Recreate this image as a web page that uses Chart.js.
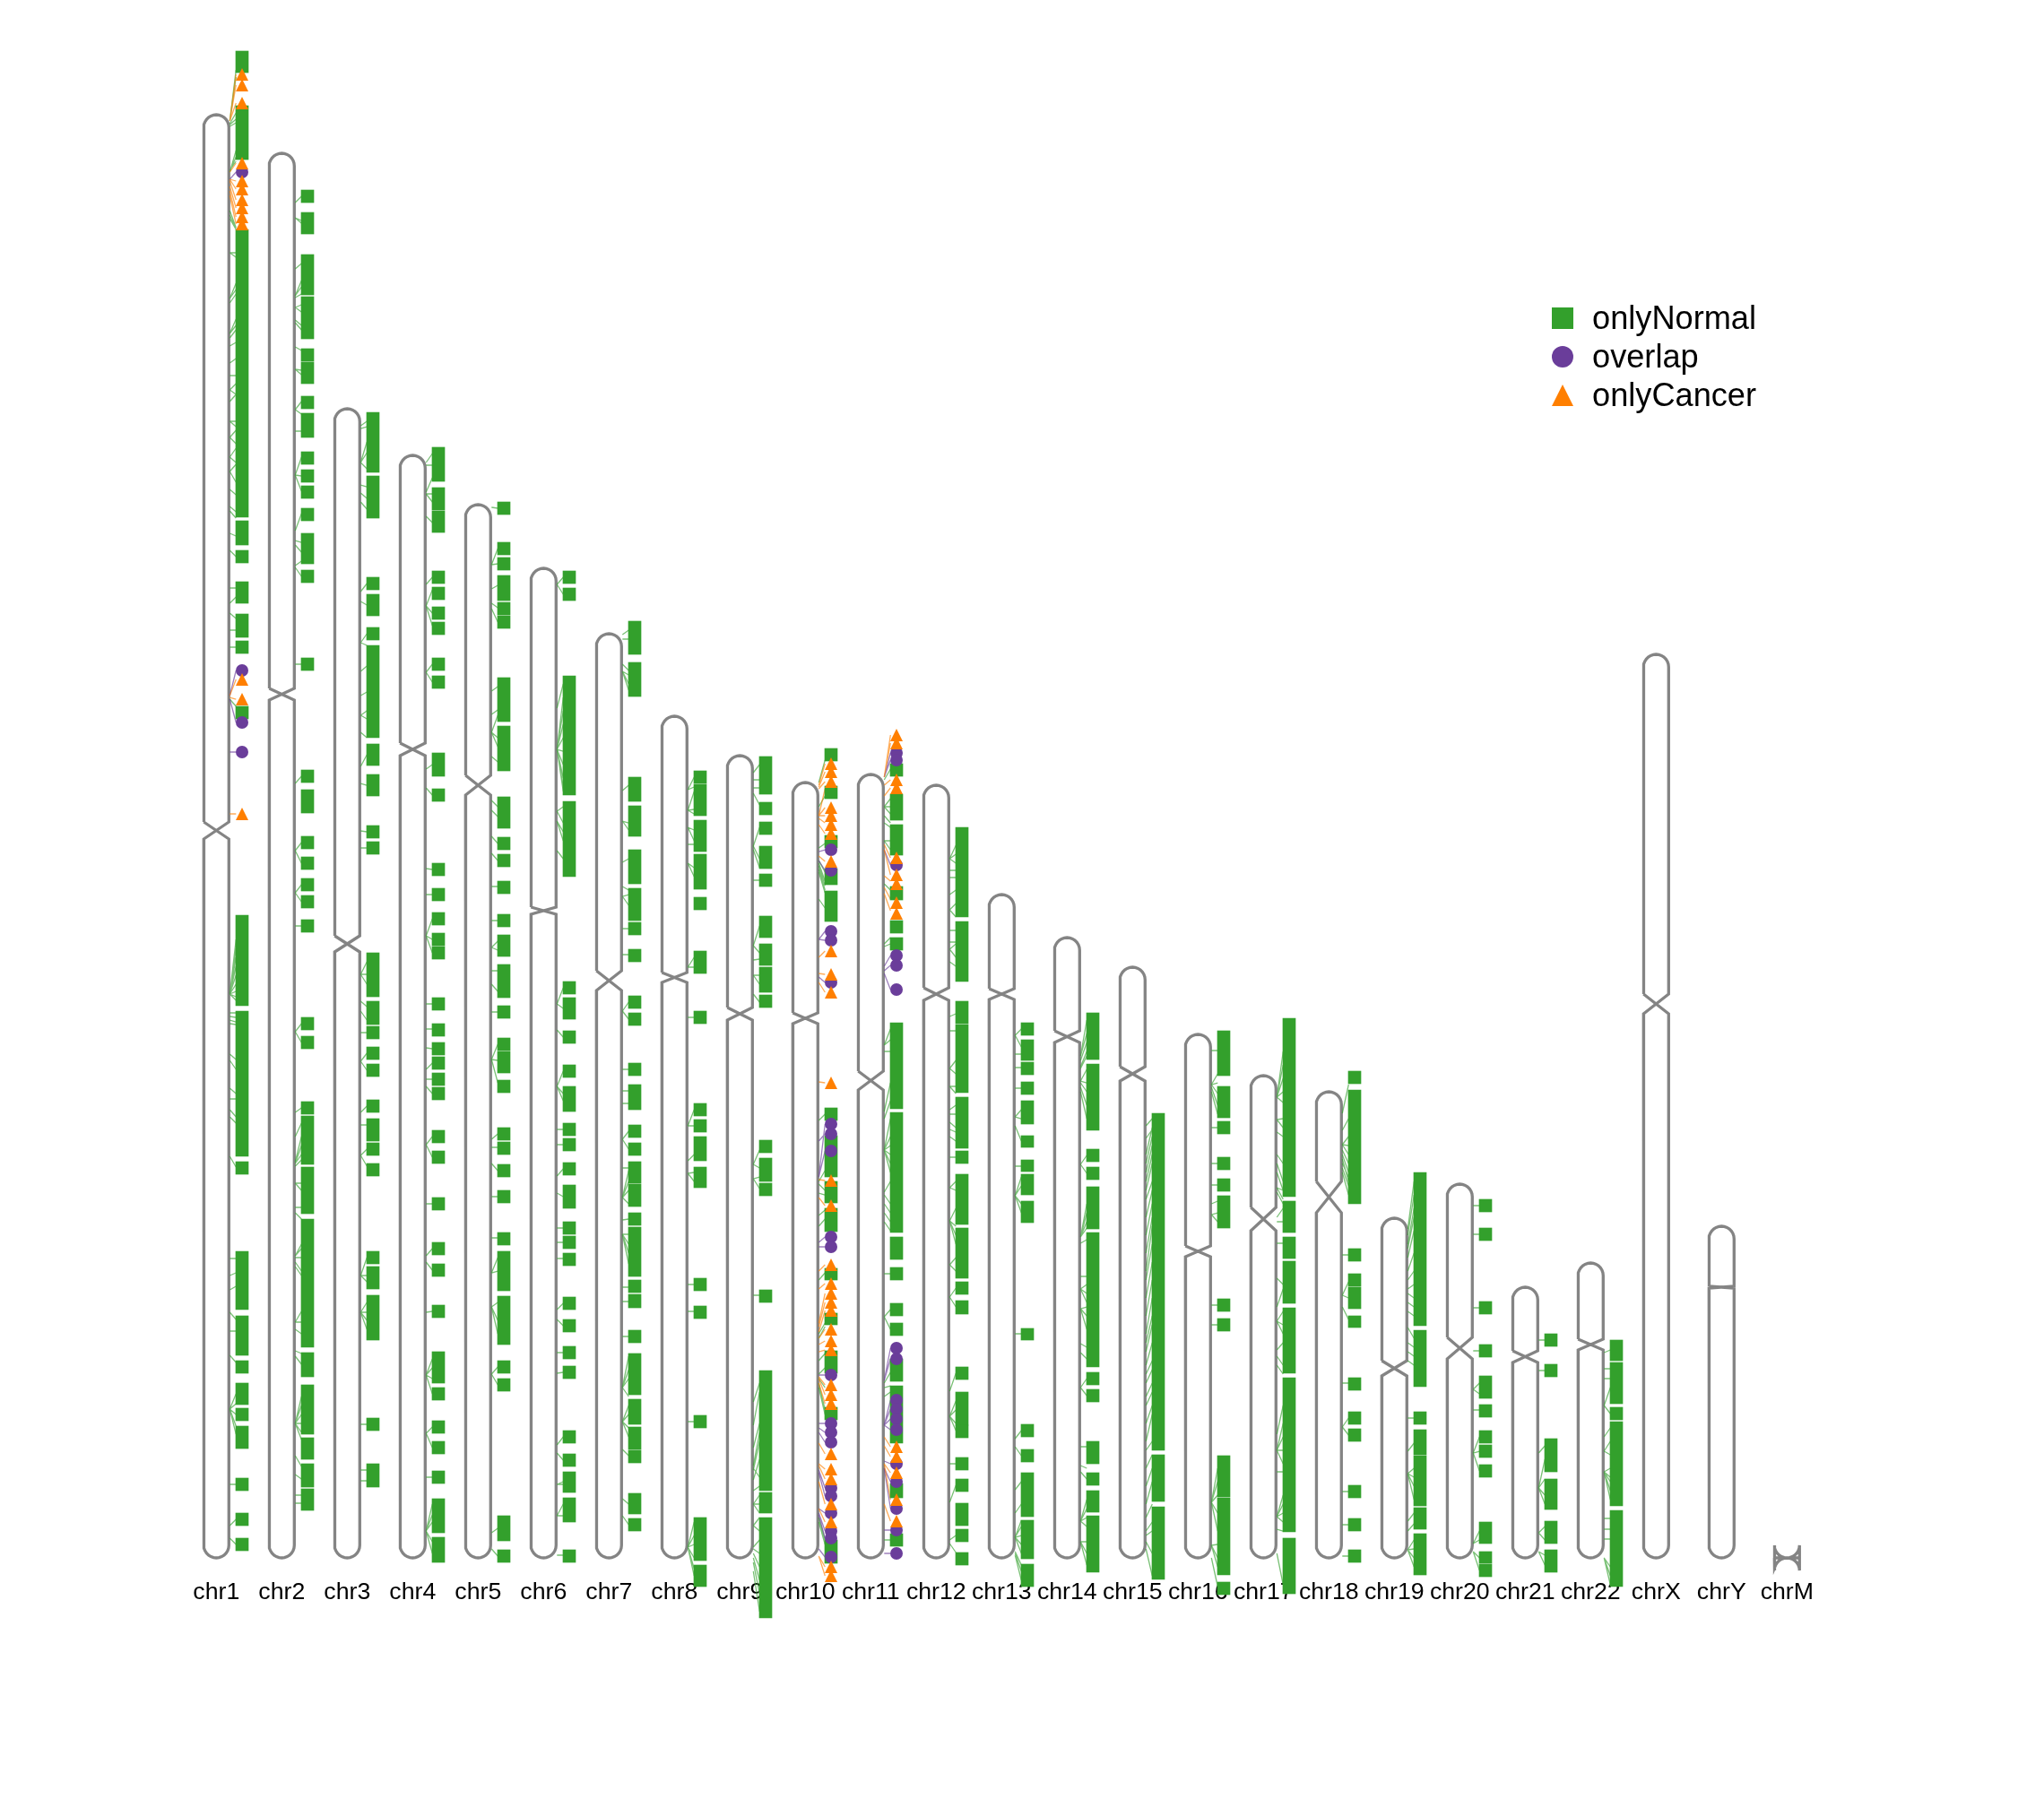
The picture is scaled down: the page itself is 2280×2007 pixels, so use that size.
<!DOCTYPE html>
<html>
<head>
<meta charset="utf-8">
<title>chromosome ideogram</title>
<script src="https://cdn.jsdelivr.net/npm/chart.js@4"></script>
<style>
  html, body { margin: 0; padding: 0; background: #fff; }
  canvas { display: block; }
</style>
</head>
<body>
<canvas id="myChart" width="2280" height="2007"></canvas>
<script>
const chrNames = ['chr1','chr2','chr3','chr4','chr5','chr6','chr7','chr8','chr9','chr10','chr11','chr12','chr13','chr14','chr15','chr16','chr17','chr18','chr19','chr20','chr21','chr22','chrX','chrY','chrM'];
const chrTop   = [1610,1567,1282,1230,1175,1104,1031,939,895,865,874,862,740,692,659,584,538,520,379,417,302,329,1008,370,0];
const cenUpper = [821,970,694,909,873,726,655,653,614,608,543,636,635,588,548,348,391,420,220,246,231,244,629,303,0];
const cenLower = [802,957,676,895,851,718,633,642,600,596,522,622,623,575,532,336,365,385,203,222,218,232,607,301,0];

// onlyNormal runs [upper, lower]
const normal1 = [[1681,1657],[1620,1560],[1482,1161],[1157,1130],[1124,1110],[1089,1065],[1053,1027],[1023,1009],[950,936],[717,616],[610,448],[442,428],[342,277],[270,226],[220,206],[195,171],[167,153],[147,122],[89,75],[50,36],[22,8]];
const normal2 = [[1526,1512],[1501,1477],[1454,1409],[1407,1360],[1349,1335],[1334,1310],[1296,1282],[1277,1250],[1234,1220],[1214,1200],[1196,1182],[1171,1157],[1143,1109],[1102,1088],[1004,990],[879,865],[857,831],[805,791],[782,768],[758,744],[739,725],[712,698],[603,589],[582,568],[509,495],[493,439],[436,384],[378,235],[229,202],[193,138],[134,110],[105,79],[77,53]];
const normal3 = [[1278,1211],[1207,1160],[1094,1080],[1075,1051],[1038,1024],[1018,915],[908,884],[874,850],[817,803],[799,785],[675,626],[621,595],[593,579],[570,556],[551,537],[511,497],[490,465],[463,449],[440,426],[342,328],[325,300],[293,243],[156,142],[105,79]];
const normal4 = [[1239,1201],[1194,1169],[1168,1144],[1101,1087],[1083,1069],[1061,1047],[1044,1030],[1004,990],[984,970],[898,872],[858,844],[775,761],[747,733],[720,706],[697,683],[682,668],[625,611],[596,582],[575,561],[559,545],[541,527],[525,511],[477,463],[454,440],[402,388],[352,338],[328,314],[282,268],[230,195],[190,176],[153,139],[130,116],[97,83],[66,28],[23,-5]];
const normal5 = [[1178,1164],[1133,1119],[1116,1102],[1096,1068],[1066,1052],[1051,1037],[982,933],[928,878],[849,814],[804,790],[785,771],[755,741],[718,704],[695,671],[662,625],[616,602],[580,566],[565,541],[533,519],[480,466],[464,450],[439,425],[410,396],[363,349],[342,298],[292,238],[220,206],[200,186],[47,19],[9,-5]];
const normal6 = [[1101,1087],[1082,1068],[984,851],[844,760],[643,629],[625,601],[588,574],[550,536],[526,498],[485,471],[468,454],[441,427],[416,390],[375,361],[359,345],[340,326],[291,277],[266,252],[236,222],[214,200],[142,128],[116,102],[96,73],[67,40],[9,-5]];
const normal7 = [[1045,1008],[999,961],[871,844],[839,805],[790,752],[747,711],[709,695],[679,665],[627,613],[608,594],[552,538],[528,500],[483,469],[463,449],[442,418],[417,392],[385,371],[369,314],[310,296],[294,279],[254,240],[228,182],[177,149],[146,121],[120,106],[72,49],[44,30]];
const normal8 = [[878,864],[863,828],[823,788],[785,746],[737,723],[677,652],[610,596],[507,493],[489,475],[470,443],[436,413],[312,298],[281,267],[159,145],[45,-3],[-8,-32]];
const normal9 = [[894,852],[843,829],[821,807],[794,769],[763,749],[716,692],[685,661],[659,631],[628,614],[466,452],[446,420],[418,404],[299,285],[209,75],[73,50],[45,-67]];
const normal10 = [[903,889],[861,847],[806,792],[769,751],[744,710],[502,488],[471,425],[420,396],[390,364],[323,310],[273,260],[231,206],[168,154],[20,-6]];
const normal11 = [[886,872],[852,823],[818,784],[749,734],[711,697],[692,678],[597,501],[497,363],[358,333],[324,310],[284,270],[262,248],[222,197],[192,128],[83,67],[27,13]];
const normal12 = [[815,715],[710,643],[621,596],[595,519],[514,457],[454,440],[428,372],[368,312],[308,294],[287,272],[213,199],[185,148],[148,134],[112,98],[88,74],[61,36],[32,18],[6,-8]];
const normal13 = [[597,583],[578,555],[553,539],[531,517],[510,484],[471,458],[444,431],[428,405],[398,374],[256,243],[149,135],[121,107],[95,46],[42,-1],[-7,-32]];
const normal14 = [[608,556],[551,477],[456,442],[436,422],[414,367],[363,213],[207,193],[188,174],[130,105],[95,81],[75,51],[47,-16]];
const normal15 = [[496,120],[115,63],[57,-24]];
const normal16 = [[588,538],[526,491],[487,473],[447,433],[423,409],[404,368],[289,275],[267,253],[114,68],[67,-19],[-27,-41]];
const normal17 = [[602,403],[398,363],[358,334],[331,284],[279,206],[201,29],[22,-40]];
const normal18 = [[543,529],[522,395],[345,331],[317,303],[302,278],[270,257],[201,187],[163,149],[144,130],[81,67],[44,30],[9,-5]];
const normal19 = [[430,259],[254,191],[163,149],[143,115],[114,58],[56,32],[27,-19]];
const normal20 = [[400,386],[368,354],[286,272],[238,224],[203,178],[171,157],[142,128],[126,112],[104,90],[40,16],[7,-6],[-7,-21]];
const normal21 = [[250,236],[216,202],[133,96],[88,54],[41,16],[9,-16]];
const normal22 = [[243,220],[218,172],[168,154],[152,58],[53,-32]];
const normalRuns = [normal1,normal2,normal3,normal4,normal5,normal6,normal7,normal8,normal9,normal10,normal11,normal12,normal13,normal14,normal15,normal16,normal17,normal18,normal19,normal20,normal21,normal22];

// overlap and onlyCancer only show up on three chromosomes
const overlap1 = [1546,990,932,899];
const overlap10 = [790,767,699,689,642,484,473,454,358,347,204,150,140,129,78,69,50,30,22,1];
const overlap11 = [898,890,773,672,661,634,234,222,176,166,155,143,105,85,55,31,5];
const cancer1 = [1655,1643,1623,1556,1536,1527,1515,1506,1496,1488,980,958,830];
const cancer10 = [886,877,866,837,828,818,808,777,677,651,631,530,421,393,327,306,295,285,276,255,242,232,193,182,172,116,99,88,60,40,-10,-20];
const cancer11 = [918,909,868,859,781,762,752,731,719,124,113,95,65,41];

// links [wall, marker]
const linkNormal1 = [[1603,1660],[1603,1652],[1600,1612],[1599,1605],[1597,1601],[1546,1570],[1546,1563],[1548,1558],[1503,1484],[1498,1482],[1494,1482],[1456,1456],[1456,1451],[1405,1422],[1405,1415],[1400,1410],[1366,1382],[1366,1375],[1361,1370],[1352,1356],[1333,1338],[1319,1319],[1303,1310],[1303,1298],[1290,1298],[1268,1268],[1268,1262],[1250,1258],[1250,1243],[1228,1238],[1228,1222],[1212,1220],[1212,1200],[1192,1186],[1173,1167],[1168,1160],[1143,1140],[1124,1117],[1082,1082],[1065,1072],[1054,1048],[1035,1035],[1016,1016],[958,950],[629,690],[629,680],[629,670],[629,660],[629,650],[629,640],[629,632],[629,626],[629,622],[608,608],[604,603],[600,598],[596,595],[562,556],[555,545],[524,518],[512,512],[500,492],[492,485],[448,436],[334,334],[315,318],[299,303],[274,266],[253,253],[226,218],[166,183],[166,172],[166,160],[166,147],[166,138],[82,82],[36,43],[22,15]];
const linkNormal2 = [[1512,1519],[1495,1492],[1495,1489],[1438,1444],[1408,1425],[1408,1418],[1406,1410],[1395,1398],[1395,1390],[1381,1375],[1378,1370],[1351,1347],[1326,1325],[1326,1320],[1281,1290],[1281,1276],[1257,1257],[1208,1228],[1208,1207],[1208,1190],[1146,1165],[1135,1133],[1130,1122],[1107,1112],[1105,1095],[997,997],[864,872],[789,798],[789,775],[742,751],[742,732],[705,705],[587,596],[587,575],[497,502],[470,485],[442,470],[440,460],[440,450],[437,444],[418,418],[418,410],[391,391],[385,378],[337,350],[337,345],[335,335],[330,320],[325,315],[263,275],[263,263],[255,250],[231,228],[225,216],[150,180],[150,170],[150,160],[150,150],[150,140],[150,132],[114,102],[93,88],[70,70],[61,61]];
const linkNormal3 = [[1263,1268],[1260,1262],[1222,1245],[1222,1233],[1222,1215],[1197,1195],[1188,1182],[1178,1170],[1078,1087],[1067,1063],[1021,1031],[1021,1018],[989,995],[962,966],[940,945],[940,936],[921,915],[883,896],[864,862],[811,810],[792,792],[651,665],[651,651],[651,640],[621,615],[610,600],[586,586],[554,563],[554,544],[497,504],[483,483],[449,456],[449,437],[315,335],[315,315],[315,308],[274,285],[274,274],[274,265],[274,255],[149,149],[98,98],[86,86]];
const linkNormal4 = [[1222,1232],[1219,1219],[1189,1205],[1187,1187],[1187,1178],[1162,1155],[1086,1094],[1062,1080],[1062,1054],[1062,1040],[988,997],[988,977],[880,885],[859,851],[769,768],[740,740],[694,713],[694,690],[694,675],[618,618],[590,590],[569,568],[545,552],[534,534],[526,518],[461,470],[461,447],[395,395],[337,345],[330,321],[274,275],[204,222],[204,212],[204,200],[204,183],[139,146],[139,123],[90,90],[30,60],[30,48],[30,40],[30,18],[30,5]];
const linkNormal5 = [[1172,1171],[1108,1126],[1108,1109],[1081,1085],[1065,1060],[1059,1044],[967,972],[941,946],[921,940],[921,915],[921,905],[894,888],[845,838],[834,827],[805,797],[786,778],[749,749],[711,711],[681,688],[681,678],[655,655],[640,632],[609,609],[556,573],[556,555],[556,530],[467,473],[458,458],[440,432],[403,403],[357,357],[318,335],[318,320],[280,285],[280,265],[280,250],[205,213],[205,193],[28,33],[10,2]];
const linkNormal6 = [[1086,1094],[1086,1075],[948,975],[902,960],[902,945],[902,930],[902,915],[902,900],[902,885],[902,870],[902,860],[902,855],[833,838],[833,820],[822,810],[822,800],[789,780],[618,636],[618,613],[589,581],[526,543],[526,518],[526,510],[478,478],[461,461],[426,434],[407,403],[368,368],[352,352],[334,334],[277,284],[266,259],[229,229],[206,207],[126,135],[117,109],[82,85],[82,82],[47,60],[47,47],[3,3]];
const linkNormal7 = [[1030,1035],[1025,1025],[997,990],[989,985],[989,975],[989,968],[856,862],[822,820],[822,812],[776,780],[749,745],[738,740],[738,728],[702,702],[673,673],[610,620],[610,601],[545,545],[521,521],[507,507],[467,476],[467,456],[435,435],[402,432],[402,420],[402,410],[402,395],[377,378],[361,361],[361,350],[361,340],[361,328],[302,302],[286,286],[247,247],[190,225],[190,210],[190,200],[190,180],[152,170],[152,160],[152,145],[152,135],[121,114],[66,60],[47,37]];
const linkNormal8 = [[857,871],[857,860],[834,855],[834,835],[834,830],[815,812],[815,800],[796,796],[775,770],[775,760],[659,670],[659,659],[603,603],[482,500],[482,482],[443,450],[429,430],[429,420],[305,305],[275,275],[152,152],[12,40],[12,25],[12,15],[12,0],[12,-12],[12,-20]];
const linkNormal9 = [[876,885],[868,868],[859,859],[853,840],[794,815],[794,780],[790,770],[756,756],[683,705],[683,675],[667,668],[650,650],[650,640],[629,620],[439,455],[439,435],[423,425],[423,412],[293,293],[174,195],[148,185],[123,150],[103,140],[98,130],[87,110],[100,90],[75,80],[60,70],[60,60],[60,50],[36,45],[36,30],[12,20],[10,5],[5,-10],[0,-25],[-5,-40],[-15,-60]];
const linkNormal10 = [[865,890],[838,850],[792,797],[778,765],[775,755],[772,750],[768,745],[765,742],[735,725],[488,495],[420,432],[417,410],[407,405],[382,388],[370,378],[310,318],[250,262],[245,258],[220,228],[205,212],[200,190],[195,165],[190,160],[40,15],[45,20]];
const linkNormal11 = [[868,880],[838,847],[838,838],[838,830],[828,820],[820,815],[800,800],[800,790],[752,745],[685,692],[682,685],[572,590],[572,578],[565,565],[498,530],[490,510],[455,490],[455,470],[455,460],[455,450],[455,440],[455,430],[408,420],[405,395],[395,385],[385,375],[375,365],[317,317],[269,277],[269,255],[195,207],[190,192],[180,185],[20,20]];
const linkNormal12 = [[780,795],[780,785],[780,775],[767,767],[759,759],[740,745],[723,730],[723,715],[700,700],[687,687],[679,685],[679,670],[665,660],[604,607],[588,588],[546,555],[546,540],[526,526],[526,518],[500,505],[495,495],[486,480],[478,475],[470,465],[447,447],[413,420],[413,410],[376,390],[376,370],[376,360],[376,350],[327,335],[327,320],[291,301],[291,280],[186,206],[158,175],[158,165],[158,150],[158,142],[105,105],[62,81],[20,25],[16,6]];
const linkNormal13 = [[583,590],[583,570],[562,562],[547,547],[524,524],[492,500],[492,490],[482,465],[437,437],[404,425],[404,415],[404,395],[404,385],[250,250],[133,142],[124,114],[76,85],[50,60],[23,42],[23,35],[23,25],[23,15],[23,5],[7,-8],[5,-15],[3,-25]];
const linkNormal14 = [[560,600],[560,585],[555,575],[548,565],[546,560],[532,545],[532,530],[530,520],[525,505],[520,490],[439,449],[439,429],[358,395],[358,385],[358,375],[358,368],[351,355],[314,314],[300,305],[300,295],[300,285],[278,280],[278,270],[278,255],[239,235],[229,222],[190,200],[190,181],[124,124],[103,100],[96,88],[41,65],[41,55],[41,45],[41,35],[18,18],[18,5],[18,-8]];
const linkNormal15 = [[482,490],[468,478],[450,480],[440,470],[430,460],[420,450],[410,440],[400,420],[380,410],[360,395],[340,380],[320,370],[310,350],[290,330],[270,310],[250,290],[240,270],[230,260],[215,240],[205,220],[195,210],[180,195],[170,185],[150,170],[130,160],[120,130],[100,115],[80,100],[60,85],[45,60],[30,40],[25,30],[18,5],[10,-20]];
const linkNormal16 = [[566,566],[528,540],[528,530],[528,518],[525,505],[520,495],[480,480],[440,440],[416,416],[395,398],[383,385],[383,375],[282,282],[260,260],[62,100],[62,85],[62,70],[62,50],[62,30],[14,15],[14,0],[14,-10],[0,-32]];
const linkNormal17 = [[514,565],[514,550],[514,535],[514,520],[514,508],[489,490],[489,480],[475,470],[450,440],[440,420],[430,410],[413,410],[413,400],[408,395],[380,390],[375,375],[351,351],[312,305],[280,300],[264,275],[264,260],[264,250],[232,240],[225,215],[215,205],[138,170],[120,150],[120,135],[120,120],[120,105],[96,96],[46,70],[46,60],[46,50],[46,40],[32,30],[5,-30]];
const linkNormal18 = [[496,528],[477,490],[461,470],[461,460],[461,450],[455,440],[450,430],[445,420],[440,425],[435,415],[430,405],[338,338],[293,308],[293,290],[280,266],[195,195],[146,156],[146,137],[74,74],[37,37],[2,2]];
const linkNormal19 = [[367,420],[360,405],[350,390],[345,380],[335,365],[320,340],[310,320],[300,305],[295,290],[285,280],[275,270],[257,245],[240,235],[230,225],[220,215],[156,156],[119,128],[94,100],[94,90],[94,80],[94,65],[41,50],[30,38],[9,20],[9,10],[9,0],[9,-10]];
const linkNormal20 = [[393,393],[361,361],[279,279],[231,231],[188,195],[188,183],[165,165],[117,135],[117,119],[117,97],[16,30],[16,20],[7,0],[7,-14]];
const linkNormal21 = [[243,243],[209,209],[117,125],[78,110],[78,88],[78,70],[78,60],[28,35],[28,20],[7,3],[7,-8]];
const linkNormal22 = [[229,232],[211,211],[200,200],[170,190],[170,161],[135,145],[119,130],[119,115],[96,100],[96,90],[96,85],[96,75],[96,65],[44,44],[32,32],[21,21],[0,-10],[0,-20],[0,-30]];
const linkNormal = [linkNormal1,linkNormal2,linkNormal3,linkNormal4,linkNormal5,linkNormal6,linkNormal7,linkNormal8,linkNormal9,linkNormal10,linkNormal11,linkNormal12,linkNormal13,linkNormal14,linkNormal15,linkNormal16,linkNormal17,linkNormal18,linkNormal19,linkNormal20,linkNormal21,linkNormal22];

const linkOverlap1 = [[1538,1546],[962,990],[958,932],[899,899]];
const linkOverlap10 = [[788,790],[778,767],[690,699],[690,689],[648,642],[465,473],[425,484],[425,454],[352,358],[347,347],[204,204],[150,150],[145,140],[140,129],[98,78],[95,69],[55,50],[50,30],[48,22],[10,1]];
const linkOverlap11 = [[871,898],[871,890],[790,773],[660,672],[655,661],[652,634],[198,234],[198,222],[148,176],[148,166],[148,155],[148,143],[108,105],[100,85],[100,55],[31,31],[5,5]];
const linkCancer1 = [[1603,1655],[1603,1643],[1603,1623],[1546,1556],[1538,1536],[1538,1527],[1536,1515],[1530,1506],[1525,1496],[1520,1488],[962,980],[960,958],[830,830]];
const linkCancer10 = [[862,886],[860,877],[858,866],[828,858],[828,837],[828,828],[825,820],[818,808],[783,777],[670,677],[652,651],[642,631],[531,530],[422,421],[402,393],[320,327],[300,306],[262,295],[258,285],[252,276],[245,255],[238,242],[230,232],[202,193],[200,182],[195,172],[128,116],[105,99],[103,88],[85,60],[55,40],[2,-10],[2,-20]];
const linkCancer11 = [[871,918],[871,909],[862,868],[850,859],[796,781],[790,762],[761,755],[748,735],[741,722],[135,124],[125,113],[105,95],[105,65],[60,41]];

const legendNames = ['onlyNormal', 'overlap', 'onlyCancer'];

const green = '#33A02C';
const purple = '#6A3D9A';
const orange = '#FF7F00';
const wallGrey = '#848484';

const pxPerChr = 73;
const firstChrPx = 241.3;
const toChrUnits = px => px / pxPerChr;
const halfWidth = toChrUnits(14);
const capRadius = 14;
const wallX = toChrUnits(15);
const markerX = toChrUnits(28.7);
const linkEndX = toChrUnits(22);

// same walk for every chromosome, chrM comes out as the pinched shape because its length is 0
function outline(i) {
  const pts = [];
  const top = chrTop[i], up = cenUpper[i], low = cenLower[i];
  const steps = 14;
  // left wall up from the centromere, over the cap, down the right wall
  pts.push({ x: i - halfWidth, y: up });
  for (let s = 0; s <= steps; s++) {
    const a = Math.PI - Math.PI * s / steps;
    pts.push({ x: i + halfWidth * Math.cos(a), y: top - capRadius + capRadius * Math.sin(a) });
  }
  pts.push({ x: i + halfWidth, y: up });
  pts.push({ x: i - halfWidth, y: low });
  for (let s = 0; s <= steps; s++) {
    const a = Math.PI + Math.PI * s / steps;
    pts.push({ x: i + halfWidth * Math.cos(a), y: capRadius + capRadius * Math.sin(a) });
  }
  pts.push({ x: i + halfWidth, y: low });
  pts.push({ x: i - halfWidth, y: up });
  return pts;
}

function markerPoints(list, i) {
  return list.map(v => ({ x: i + markerX, y: v }));
}

function linkPoints(list, i) {
  const pts = [];
  list.forEach(l => {
    pts.push({ x: i + wallX, y: l[0] });
    pts.push({ x: i + linkEndX, y: l[1] });
    pts.push({ x: NaN, y: NaN });
  });
  return pts;
}

function triangle(size) {
  const c = document.createElement('canvas');
  c.width = size;
  c.height = size;
  const g = c.getContext('2d');
  g.fillStyle = orange;
  g.beginPath();
  g.moveTo(size / 2, 0);
  g.lineTo(size, size);
  g.lineTo(0, size);
  g.closePath();
  g.fill();
  return c;
}

const normalData = [];
normalRuns.forEach((runs, i) => {
  runs.forEach(r => normalData.push({ x: i + markerX, y: r }));
});

const overlapData = markerPoints(overlap1, 0).concat(markerPoints(overlap10, 9), markerPoints(overlap11, 10));
const cancerData = markerPoints(cancer1, 0).concat(markerPoints(cancer10, 9), markerPoints(cancer11, 10));

function linkSet(data, color, order) {
  return { type: 'line', data: data, borderColor: color, borderWidth: 1.3, pointRadius: 0, spanGaps: false, clip: false, order: order };
}

let normalLinks = [];
linkNormal.forEach((l, i) => { normalLinks = normalLinks.concat(linkPoints(l, i)); });
const overlapLinks = linkPoints(linkOverlap1, 0).concat(linkPoints(linkOverlap10, 9), linkPoints(linkOverlap11, 10));
const cancerLinks = linkPoints(linkCancer1, 0).concat(linkPoints(linkCancer10, 9), linkPoints(linkCancer11, 10));

const datasets = [
  { type: 'scatter', label: 'onlyCancer', data: cancerData, pointStyle: triangle(14), pointRadius: 7, backgroundColor: orange, borderWidth: 0, clip: false, order: 1 },
  { type: 'scatter', label: 'overlap', data: overlapData, pointStyle: 'circle', pointRadius: 7, backgroundColor: purple, borderWidth: 0, clip: false, order: 2 },
  { type: 'bar', label: 'onlyNormal', data: normalData, backgroundColor: green, barThickness: 14, borderWidth: 0, clip: false, order: 3 },
  linkSet(cancerLinks, 'rgba(255,127,0,0.65)', 4),
  linkSet(overlapLinks, 'rgba(106,61,154,0.65)', 5),
  linkSet(normalLinks, 'rgba(51,160,44,0.65)', 6)
];

chrNames.forEach((name, i) => {
  datasets.push({ type: 'line', label: name, data: outline(i), borderColor: wallGrey, borderWidth: 3.3, pointRadius: 0, tension: 0, clip: false, order: 7 });
});

// key sits over the empty part of the plot, the built in legend cannot be placed there
const keyPlugin = {
  id: 'keyPlugin',
  afterDatasetsDraw(chart) {
    const ctx = chart.ctx;
    const rows = [355, 398, 441];
    const cx = 1743, half = 12;
    ctx.save();
    ctx.fillStyle = green;
    ctx.fillRect(cx - half, rows[0] - half, half * 2, half * 2);
    ctx.fillStyle = purple;
    ctx.beginPath();
    ctx.arc(cx, rows[1], half, 0, Math.PI * 2);
    ctx.fill();
    ctx.drawImage(triangle(24), cx - half, rows[2] - half);
    ctx.fillStyle = '#000';
    ctx.font = '36.2px "Liberation Sans"';
    ctx.textBaseline = 'alphabetic';
    legendNames.forEach((n, i) => ctx.fillText(n, 1776, rows[i] + 12));
    ctx.restore();
  }
};

const ctx = document.getElementById('myChart').getContext('2d');
const chart = new Chart(ctx, {
  type: 'bar',
  data: { datasets: datasets },
  plugins: [keyPlugin],
  options: {
    responsive: false,
    animation: false,
    layout: { padding: 0, autoPadding: false },
    plugins: { legend: { display: false }, tooltip: { enabled: false } },
    scales: {
      x: {
        type: 'linear',
        offset: false,
        min: -firstChrPx / pxPerChr,
        max: (2280 - firstChrPx) / pxPerChr,
        border: { display: false },
        grid: { display: false, drawTicks: false },
        afterBuildTicks(scale) { scale.ticks = chrNames.map((n, i) => ({ value: i })); },
        afterFit(scale) { scale.height = 252; },
        ticks: {
          autoSkip: false,
          maxRotation: 0,
          minRotation: 0,
          padding: 6,
          z: -1,
          color: '#000',
          font: { family: '"Liberation Sans"', size: 26.7 },
          callback: v => chrNames[v]
        }
      },
      y: { type: 'linear', display: false, min: -17, max: 1738 }
    }
  }
});
</script>
</body>
</html>
